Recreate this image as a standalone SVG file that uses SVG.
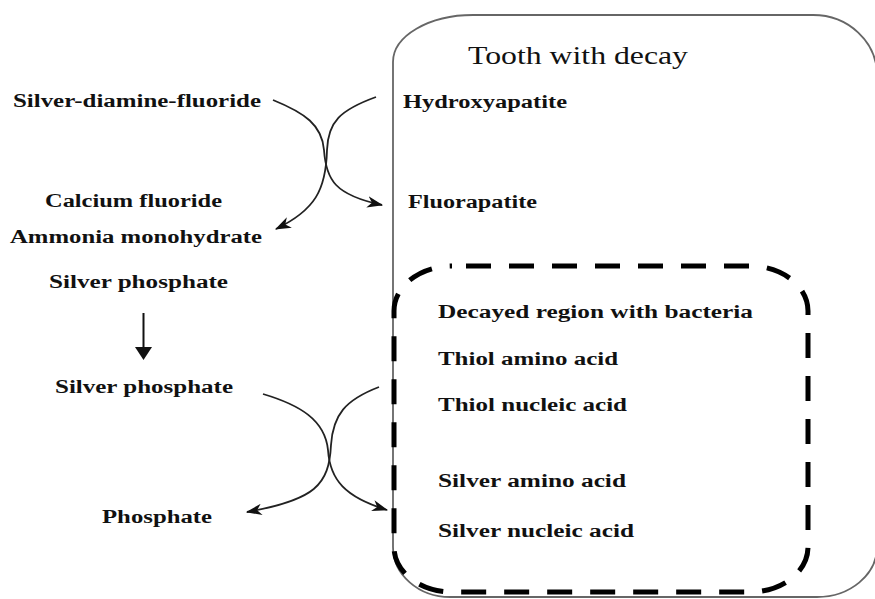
<svg xmlns="http://www.w3.org/2000/svg" width="875" height="599" viewBox="0 0 875 599">
<style>
.t{font-family:"Liberation Serif","Times New Roman",serif;font-weight:bold;font-size:18px;fill:#111}
.title{font-family:"Liberation Serif","Times New Roman",serif;font-size:25px;fill:#111}
.c{fill:none;stroke:#222;stroke-width:1.8}
</style>
<defs>
<marker id="ah" viewBox="0 0 14 10" refX="13" refY="5" markerWidth="16" markerHeight="12" markerUnits="userSpaceOnUse" orient="auto">
<path d="M0,0 L14,5 L0,10 L4,5 Z" fill="#111"/>
</marker>
</defs>
<rect width="875" height="599" fill="#fff"/>
<g id="tooth">
<path d="M393,62 A80,47 0 0 1 473,15 L813,15 A64,60 0 0 1 877,75 L877,547 A60,50 0 0 1 817,597 L450,597 A57,50 0 0 1 393,547 Z" fill="none" stroke="#666" stroke-width="1.8"/>
<text class="title" x="468" y="64" textLength="220" lengthAdjust="spacingAndGlyphs">Tooth with decay</text>
</g>
<g id="decayed-region">
<rect x="394" y="266" width="414" height="326" rx="58" ry="45" fill="none" stroke="#000" stroke-width="5" stroke-dasharray="25 18" stroke-dashoffset="-14"/>
</g>
<g id="hydroxyapatite"><text class="t" x="403" y="108" textLength="164" lengthAdjust="spacingAndGlyphs">Hydroxyapatite</text></g>
<g id="fluorapatite"><text class="t" x="408" y="208" textLength="129" lengthAdjust="spacingAndGlyphs">Fluorapatite</text></g>
<g id="decayed-label"><text class="t" x="438" y="318" textLength="315" lengthAdjust="spacingAndGlyphs">Decayed region with bacteria</text></g>
<g id="thiol-amino"><text class="t" x="438" y="365" textLength="180" lengthAdjust="spacingAndGlyphs">Thiol amino acid</text></g>
<g id="thiol-nucleic"><text class="t" x="438" y="411" textLength="189" lengthAdjust="spacingAndGlyphs">Thiol nucleic acid</text></g>
<g id="silver-amino"><text class="t" x="438" y="487" textLength="188" lengthAdjust="spacingAndGlyphs">Silver amino acid</text></g>
<g id="silver-nucleic"><text class="t" x="438" y="537" textLength="196" lengthAdjust="spacingAndGlyphs">Silver nucleic acid</text></g>
<g id="sdf"><text class="t" x="13" y="107" textLength="248" lengthAdjust="spacingAndGlyphs">Silver-diamine-fluoride</text></g>
<g id="calcium-fluoride"><text class="t" x="45" y="207" textLength="177" lengthAdjust="spacingAndGlyphs">Calcium fluoride</text></g>
<g id="ammonia"><text class="t" x="10" y="243" textLength="252" lengthAdjust="spacingAndGlyphs">Ammonia monohydrate</text></g>
<g id="silver-phosphate-1"><text class="t" x="49" y="288" textLength="179" lengthAdjust="spacingAndGlyphs">Silver phosphate</text></g>
<g id="silver-phosphate-2"><text class="t" x="55" y="393" textLength="178" lengthAdjust="spacingAndGlyphs">Silver phosphate</text></g>
<g id="phosphate"><text class="t" x="102" y="523" textLength="110" lengthAdjust="spacingAndGlyphs">Phosphate</text></g>
<g id="connectors">
<path class="c" d="M273,100 C305,113 322,125 324,150 C326,180 335,195 382,205" marker-end="url(#ah)"/>
<path class="c" d="M376,97 C340,110 328,122 327,150 C326,190 315,210 276,229" marker-end="url(#ah)"/>
<path class="c" d="M263,394 C300,405 325,420 328,450 C330,480 345,497 387,510" marker-end="url(#ah)"/>
<path class="c" d="M379,387 C345,400 333,415 331,445 C329,485 315,500 247,512" marker-end="url(#ah)"/>
<line x1="143.5" y1="313" x2="143.5" y2="348" stroke="#111" stroke-width="2"/>
<path d="M135,347 L152,347 L143.5,360 Z" fill="#111"/>
</g>
</svg>
